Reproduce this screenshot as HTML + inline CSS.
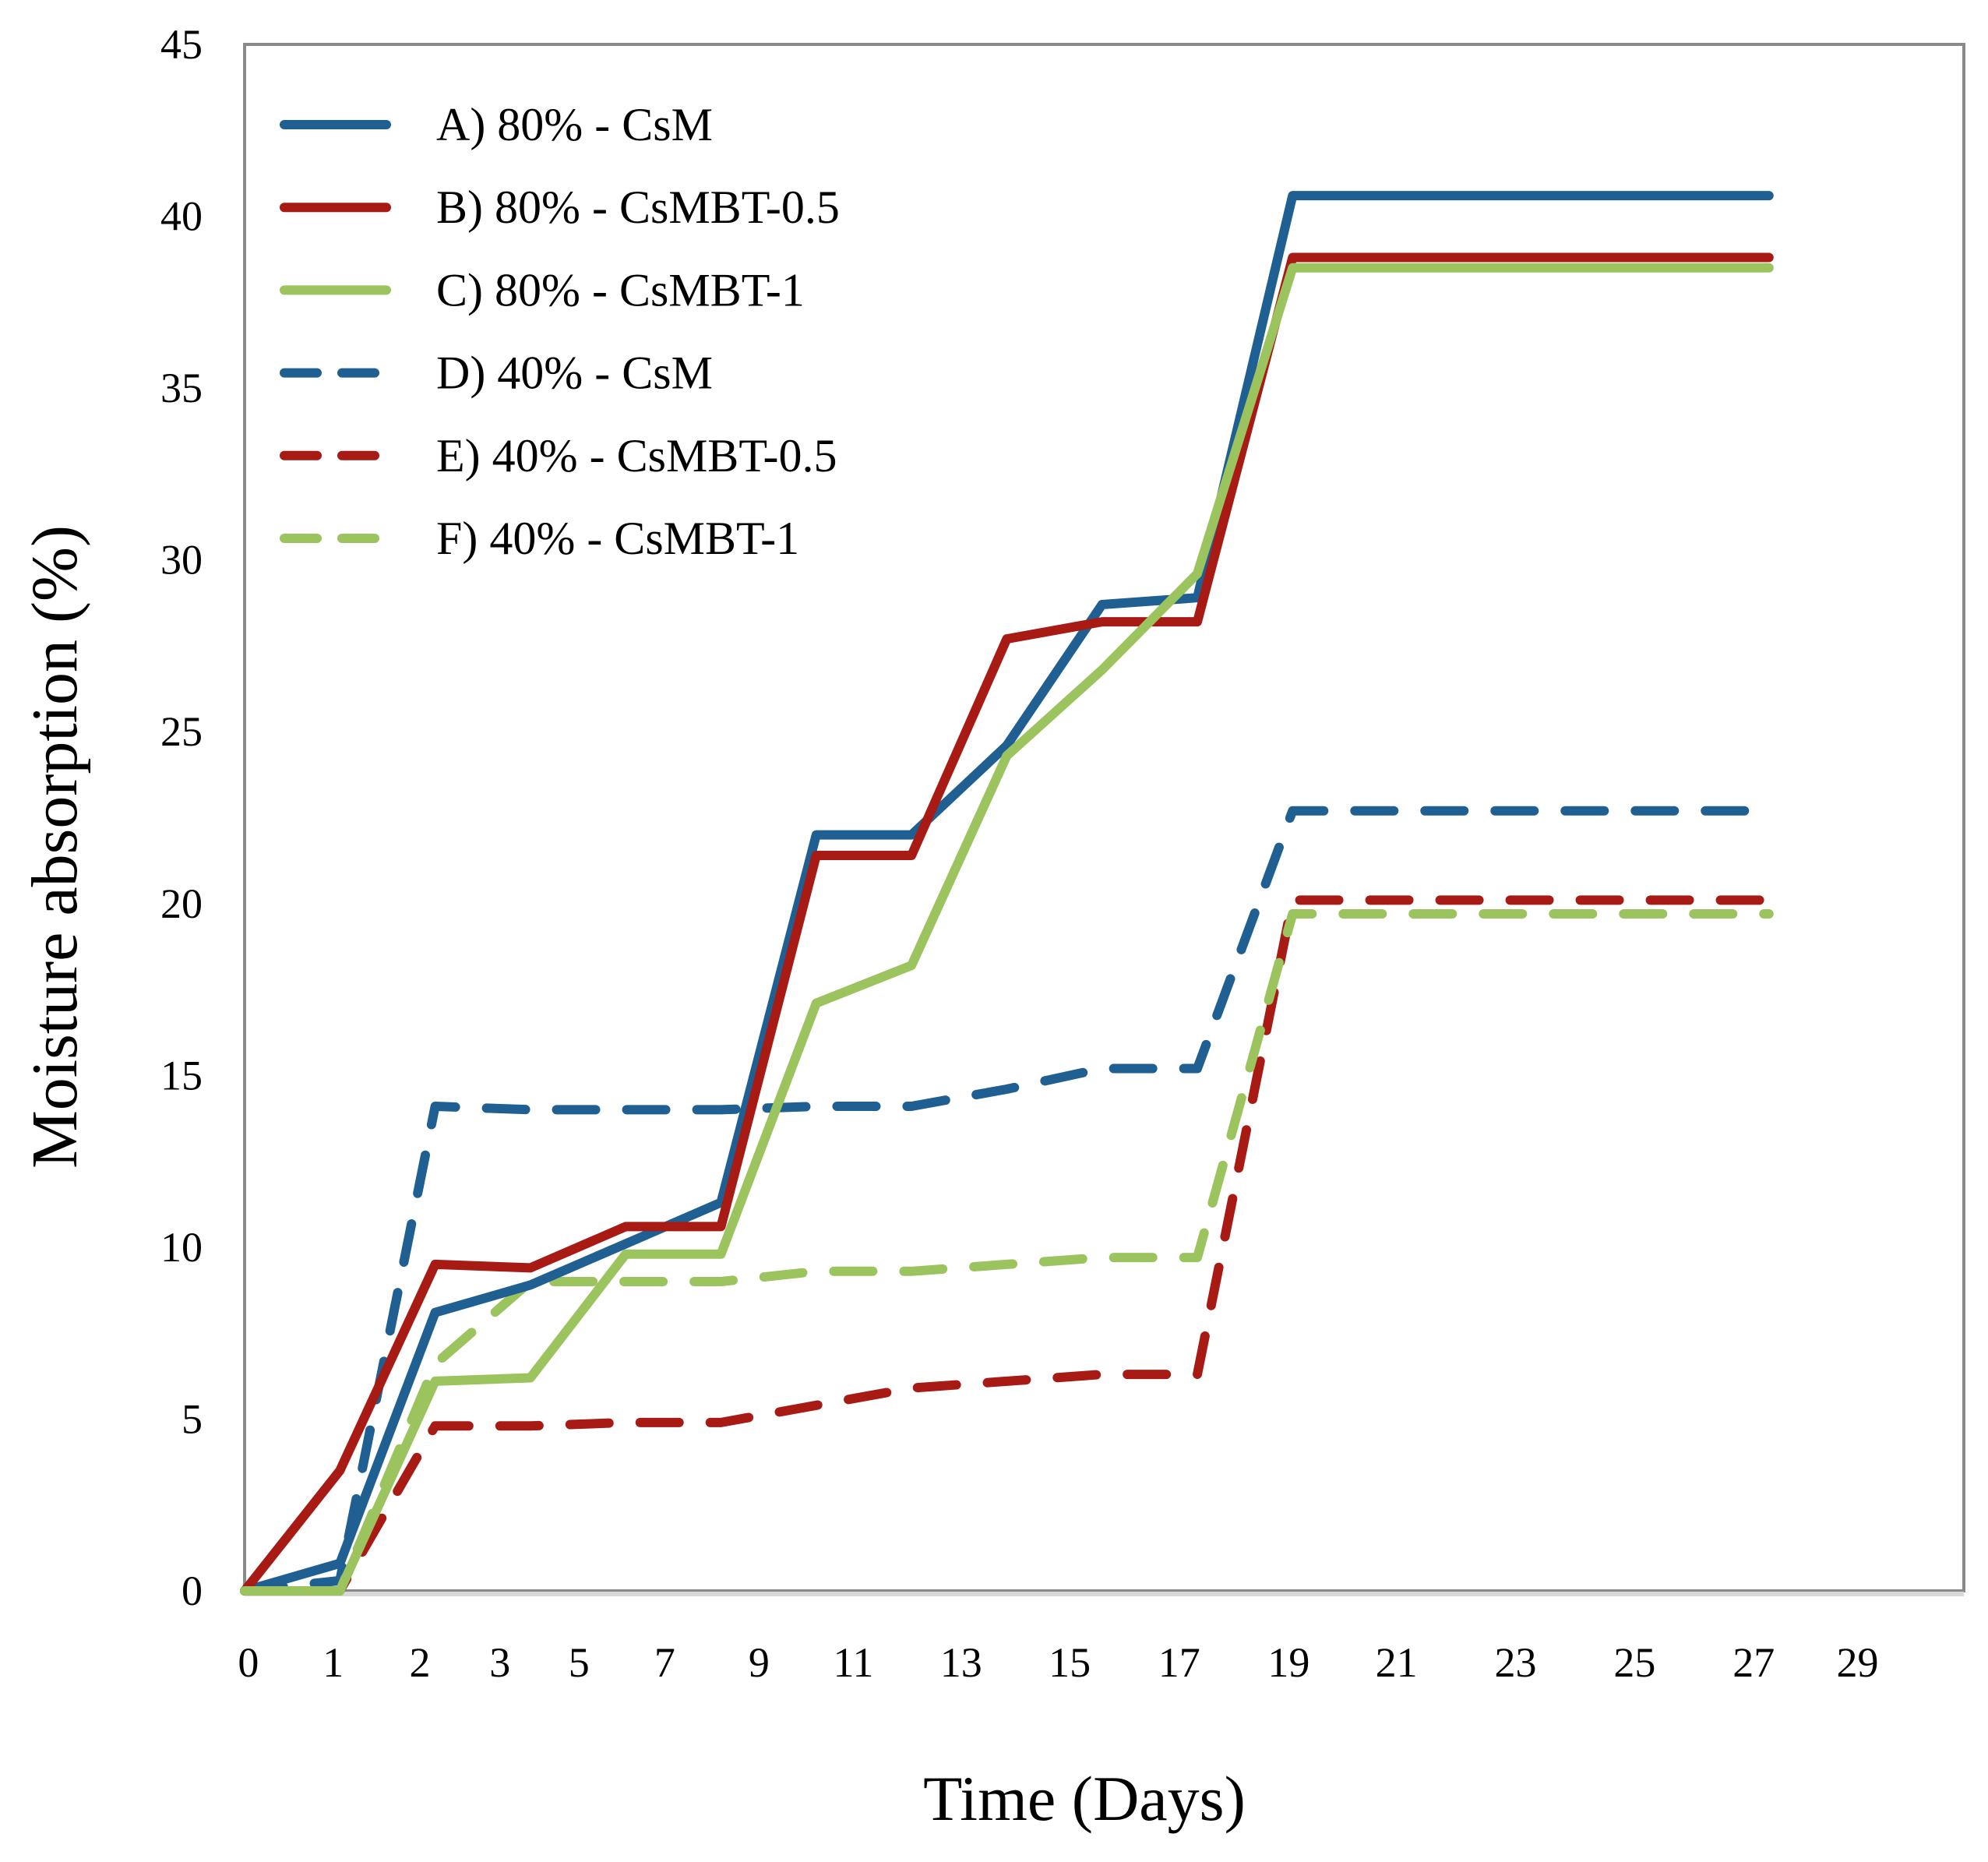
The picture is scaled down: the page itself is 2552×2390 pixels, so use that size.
<!DOCTYPE html>
<html><head><meta charset="utf-8"><style>
html,body{margin:0;padding:0;background:#fff;}
svg{display:block;font-family:"Liberation Serif",serif;}
</style></head><body>
<svg id="chart" width="2552" height="2390" viewBox="0 0 2552 2390">
<rect x="0" y="0" width="2552" height="2390" fill="#fff"/>
<rect x="314" y="57" width="2207" height="1985" fill="none" stroke="#8a8a8a" stroke-width="4"/>
<line x1="314" y1="2046" x2="2521" y2="2046" stroke="#d8d8d8" stroke-width="6"/>
<g id="yticks"></g>
<g id="xticks"></g>
<g id="series"></g>
<g id="legend"></g>
<text x="1392" y="2336" font-size="82" text-anchor="middle">Time (Days)</text>
<text transform="translate(98,1087) rotate(-90)" font-size="84" text-anchor="middle">Moisture absorption (%)</text>
</svg>
<script>
const yTicks=[0,5,10,15,20,25,30,35,40,45];
const xTickLabels=["0","1","2","3","5","7","9","11","13","15","17","19","21","23","25","27","29"];
const xTickAt=[0.04,0.93,1.84,2.68,3.51,4.41,5.4,6.39,7.52,8.66,9.81,10.96,12.09,13.34,14.59,15.84,16.93];
const xIdx=[0,1,2,3,4,5,6,7,8,9,10,11,16];
const sA=[0,0.8,8.1,8.9,10.1,11.3,22,22,24.6,28.7,28.9,40.6,40.6];
const sB=[0,3.5,9.5,9.4,10.6,10.6,21.4,21.4,27.7,28.2,28.2,38.8,38.8];
const sC=[0,0,6.1,6.2,9.8,9.8,17.1,18.2,24.3,26.8,29.6,38.5,38.5];
const sD=[0,0.3,14.1,14.0,14.0,14.0,14.1,14.1,14.6,15.2,15.2,22.7,22.7];
const sE=[0,0,4.8,4.8,4.9,4.9,5.4,5.9,6.1,6.3,6.3,20.1,20.1];
const sF=[0,0,6.6,9.0,9.0,9.0,9.3,9.3,9.5,9.7,9.7,19.7,19.7];
const names=["A) 80% - CsM","B) 80% - CsMBT-0.5","C) 80% - CsMBT-1","D) 40% - CsM","E) 40% - CsMBT-0.5","F) 40% - CsMBT-1"];
const NS="http://www.w3.org/2000/svg";
const X=i=>314+i*122.3;
const Y=v=>2042-v*(1985/45);
const cols=["#1f5f91","#a81a14","#9bc35e","#1f5f91","#a81a14","#9bc35e"];
const dashed=[false,false,false,true,true,true];
const all=[sA,sB,sC,sD,sE,sF];
function mk(t,a,p){const e=document.createElementNS(NS,t);for(const k in a)e.setAttribute(k,a[k]);p.appendChild(e);return e;}
const yg=document.getElementById('yticks');
yTicks.forEach(v=>{
  const t=mk('text',{x:260,y:Y(v)+18,'font-size':54,'text-anchor':'end'},yg);t.textContent=v;
  
  
});
const xg=document.getElementById('xticks');
xTickLabels.forEach((l,i)=>{
  const t=mk('text',{x:X(xTickAt[i]),y:2152,'font-size':54,'text-anchor':'middle'},xg);t.textContent=l;
  
  
});
const sg=document.getElementById('series');
const order=[3,4,5,0,1,2];
order.forEach(k=>{
  const pts=all[k].map((v,i)=>X(xIdx[i]).toFixed(1)+','+Y(v).toFixed(1)).join(' ');
  const a={points:pts,fill:'none',stroke:cols[k],'stroke-width':12,'stroke-linejoin':'round','stroke-linecap':'round'};
  if(dashed[k])a['stroke-dasharray']='50 40';
  const p=mk('polyline',a,sg);
  
  
});
const lg=document.getElementById('legend');
names.forEach((n,k)=>{
  const y=160+k*106.2;
  const a={x1:365,y1:y,x2:496,y2:y,stroke:cols[k],'stroke-width':12,'stroke-linecap':'round'};
  if(dashed[k])a['stroke-dasharray']='42 32';
  const l=mk('line',a,lg);
  
  
  const t=mk('text',{x:560,y:y+20,'font-size':60},lg);t.textContent=n;
  
  
});
</script>
</body></html>
